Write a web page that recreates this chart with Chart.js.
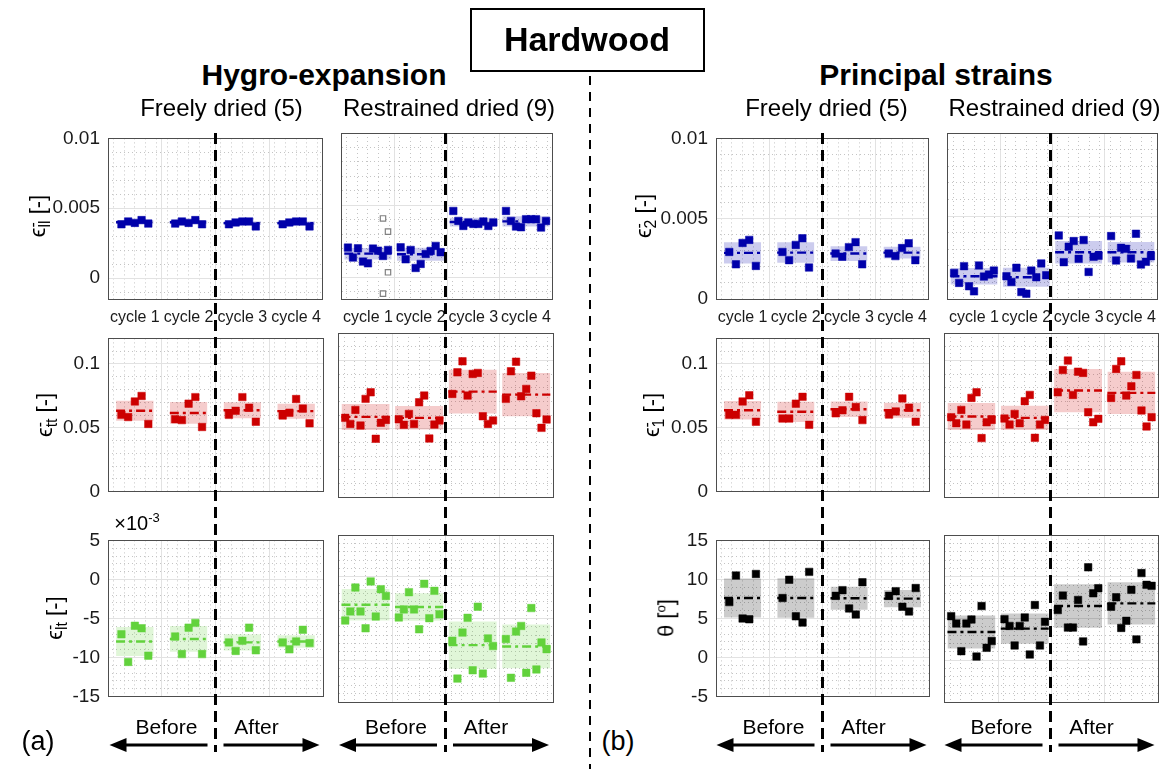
<!DOCTYPE html>
<html><head><meta charset="utf-8">
<script src="https://cdn.jsdelivr.net/npm/chart.js@4.4.1/dist/chart.umd.min.js"></script>
<style>
body{margin:0;background:#fff;}
#fig{position:relative;width:1165px;height:769px;overflow:hidden;font-family:"Liberation Sans",Arial,Helvetica,sans-serif;color:#000;background:#fff;}
#fig canvas{position:absolute;}
.t{position:absolute;white-space:nowrap;transform:translate(-50%,-50%);line-height:1;}
.rot{transform:translate(-50%,-50%) rotate(-90deg);}
.eb{display:inline-block;vertical-align:middle;line-height:0.75;font-size:0.72em;text-align:left;}
.eb span{display:block;}
.vd{position:absolute;z-index:5;}
</style></head><body><div id="fig"></div>
<script>
// ---------------- DATA ----------------
const cycles = ['cycle 1', 'cycle 2', 'cycle 3', 'cycle 4'];
// tick labels
const llTicks = [0, 0.005, 0.01];
const ttTicks = [0, 0.05, 0.1];
const ltTicks = [-15e-3, -10e-3, -5e-3, 0, 5e-3];
const e2Ticks = [0, 0.005, 0.01];
const e1Ticks = [0, 0.05, 0.1];
const thTicks = [-5, 0, 5, 10, 15];

// (a) Hygro-expansion: eps_ll
const llFree = [[3.85e-3, 4.05e-3, 3.95e-3, 4.15e-3, 3.9e-3], [3.9e-3, 4.05e-3, 3.95e-3, 4.15e-3, 3.85e-3], [3.85e-3, 3.98e-3, 4.05e-3, 4.05e-3, 3.7e-3], [3.85e-3, 3.98e-3, 4.05e-3, 4.05e-3, 3.7e-3]];
const llFreeMean = [4.0e-3, 4.0e-3, 3.93e-3, 3.93e-3];
const llFreeSd = [0.12e-3, 0.12e-3, 0.14e-3, 0.14e-3];
const llRest = [[2.06e-3, 1.37e-3, 2.01e-3, 1.09e-3, 0.97e-3, 1.99e-3, 1.85e-3, 1.48e-3, 1.9e-3], [2.08e-3, 1.25e-3, 1.9e-3, 0.65e-3, 0.93e-3, 1.62e-3, 1.83e-3, 2.18e-3, 1.74e-3], [4.6e-3, 3.91e-3, 3.56e-3, 3.8e-3, 3.7e-3, 3.7e-3, 3.87e-3, 3.56e-3, 3.8e-3], [4.6e-3, 3.91e-3, 3.52e-3, 3.47e-3, 4.03e-3, 4.03e-3, 4.03e-3, 3.45e-3, 3.91e-3]];
const llRestMean = [1.64e-3, 1.6e-3, 3.83e-3, 3.88e-3];
const llRestSd = [0.4e-3, 0.45e-3, 0.3e-3, 0.35e-3];
const llRestOutCycle = [0, 0, 0, 0];
const llRestOutSpec = [7, 8, 8, 7];
const llRestOutVal = [4.08e-3, 3.17e-3, 0.35e-3, -1.13e-3];
// eps_tt
const ttFree = [[0.0601, 0.0584, 0.0706, 0.0749, 0.053], [0.0567, 0.056, 0.0689, 0.074, 0.0506], [0.0601, 0.0633, 0.074, 0.0657, 0.0547], [0.0596, 0.0618, 0.0725, 0.065, 0.0535]];
const ttFreeMean = [0.0633, 0.0616, 0.0637, 0.063];
const ttFreeSd = [0.0079, 0.0085, 0.0063, 0.0059];
const ttRest = [[0.0579, 0.0535, 0.0637, 0.0523, 0.0718, 0.0766, 0.0426, 0.0543, 0.0564], [0.0569, 0.0528, 0.0608, 0.0535, 0.0693, 0.0742, 0.0428, 0.053, 0.056], [0.0754, 0.0912, 0.0993, 0.0742, 0.09, 0.0908, 0.0591, 0.0535, 0.056], [0.0718, 0.092, 0.099, 0.0737, 0.0791, 0.0888, 0.0613, 0.0506, 0.0567]];
const ttRestMean = [0.0586, 0.0579, 0.0771, 0.0749];
const ttRestSd = [0.0095, 0.0086, 0.016, 0.0158];
// eps_lt
const ltFree = [[-7.02e-3, -10.56e-3, -5.93e-3, -6.25e-3, -9.76e-3], [-7.3e-3, -9.56e-3, -6.17e-3, -5.56e-3, -9.56e-3], [-8.06e-3, -9.15e-3, -7.86e-3, -6.17e-3, -9.07e-3], [-8.06e-3, -8.95e-3, -7.94e-3, -6.45e-3, -8.15e-3]];
const ltFreeMean = [-7.94e-3, -7.62e-3, -8.06e-3, -7.94e-3];
const ltFreeSd = [1.85e-3, 1.65e-3, 1.05e-3, 0.8e-3];
const ltRest = [[-5.24e-3, -4.15e-3, -1.29e-3, -4.15e-3, -6.17e-3, -0.56e-3, -4.76e-3, -1.49e-3, -2.3e-3], [-4.88e-3, -3.91e-3, -1.85e-3, -3.91e-3, -6.29e-3, -0.85e-3, -4.96e-3, -1.69e-3, -4.48e-3], [-7.66e-3, -12.2e-3, -6.69e-3, -4.92e-3, -11.2e-3, -3.59e-3, -11.6e-3, -7.38e-3, -8.3e-3], [-7.46e-3, -12.1e-3, -6.57e-3, -5.89e-3, -11.5e-3, -3.75e-3, -11.1e-3, -7.86e-3, -8.67e-3]];
const ltRestMean = [-3.35e-3, -3.63e-3, -8.19e-3, -8.35e-3];
const ltRestSd = [1.88e-3, 1.65e-3, 2.83e-3, 2.62e-3];

// (b) Principal strains: eps_2
const e2Free = [[2.93e-3, 2.16e-3, 3.49e-3, 3.68e-3, 2.06e-3], [2.93e-3, 2.42e-3, 3.37e-3, 3.78e-3, 1.96e-3], [2.83e-3, 2.63e-3, 3.23e-3, 3.54e-3, 2.16e-3], [2.83e-3, 2.67e-3, 3.17e-3, 3.47e-3, 2.42e-3]];
const e2FreeMean = [2.87e-3, 2.89e-3, 2.83e-3, 2.89e-3];
const e2FreeSd = [0.66e-3, 0.64e-3, 0.46e-3, 0.37e-3];
const e2Rest = [[1.57e-3, 0.97e-3, 1.98e-3, 0.77e-3, 0.46e-3, 2.02e-3, 1.35e-3, 1.47e-3, 1.71e-3], [1.37e-3, 1.03e-3, 1.88e-3, 0.42e-3, 0.32e-3, 1.71e-3, 1.31e-3, 2.14e-3, 1.43e-3], [3.83e-3, 2.22e-3, 3.15e-3, 3.49e-3, 2.42e-3, 3.55e-3, 1.63e-3, 2.54e-3, 2.6e-3], [3.79e-3, 2.32e-3, 3.08e-3, 3.02e-3, 2.44e-3, 3.93e-3, 2.08e-3, 2.24e-3, 2.58e-3]];
const e2RestMean = [1.37e-3, 1.31e-3, 2.82e-3, 2.82e-3];
const e2RestSd = [0.5e-3, 0.57e-3, 0.68e-3, 0.62e-3];
// eps_1
const e1Free = [[0.0601, 0.0601, 0.0706, 0.0754, 0.0547], [0.0572, 0.0572, 0.0689, 0.0742, 0.0523], [0.0613, 0.0637, 0.0742, 0.0662, 0.056], [0.0603, 0.0628, 0.073, 0.0657, 0.0547]];
const e1FreeMean = [0.0637, 0.0625, 0.0645, 0.0637];
const e1FreeSd = [0.0073, 0.0079, 0.0061, 0.0058];
const e1Rest = [[0.0584, 0.054, 0.0637, 0.053, 0.0725, 0.0766, 0.0431, 0.0547, 0.0564], [0.0574, 0.053, 0.0608, 0.054, 0.0701, 0.0747, 0.0433, 0.053, 0.0564], [0.0766, 0.0929, 0.0998, 0.0747, 0.0917, 0.0908, 0.062, 0.0547, 0.0572], [0.0725, 0.0937, 0.0993, 0.0742, 0.081, 0.0893, 0.0633, 0.0516, 0.0584]];
const e1RestMean = [0.0589, 0.0579, 0.0779, 0.0762];
const e1RestSd = [0.0098, 0.0089, 0.0158, 0.0155];
// theta
const thFree = [[7.1, 10.5, 5.0, 4.9, 10.7], [7.62, 9.96, 5.28, 4.48, 10.97], [7.9, 8.63, 6.29, 5.52, 9.64], [7.9, 8.5, 6.5, 5.9, 8.9]];
const thFreeMean = [7.62, 7.62, 7.6, 7.54];
const thFreeSd = [2.5, 2.52, 1.47, 1.11];
const thRest = [[5.28, 4.4, 1.09, 4.4, 4.88, 0.44, 6.49, 1.49, 2.3], [4.92, 4.11, 1.77, 4.11, 5.12, 0.69, 6.61, 1.77, 4.6], [6.01, 7.74, 3.91, 3.91, 7.22, 2.26, 11.13, 8.02, 8.63], [6.41, 7.54, 3.87, 4.72, 8.43, 2.5, 10.44, 9.03, 8.91]];
const thRestMean = [3.39, 3.79, 6.49, 6.81];
const thRestSd = [1.98, 1.8, 2.6, 2.52];

// ---------------- LAYOUT / STYLE ----------------
const COLS = [[108, 215], [337, 216], [716, 213], [943, 215]];
const ROWS = [[133, 166], [333, 164], [535, 167]];
const FREE_OFF = [0.25, 0.375, 0.5, 0.625, 0.75];
const REST_OFF = [0.12, 0.215, 0.31, 0.405, 0.5, 0.595, 0.69, 0.785, 0.88];
const FREE_SPAN = [0.15, 0.85];
const REST_SPAN = [0.05, 0.95];
const FONT = '"Liberation Sans", Arial, Helvetica, sans-serif';
const C = {
  blue: ['#0000AA', 'rgba(0,0,170,0.2)'],
  red: ['#CC0000', 'rgba(204,0,0,0.2)'],
  green: ['#62D23C', 'rgba(98,210,60,0.2)'],
  black: ['#000000', 'rgba(0,0,0,0.2)']
};
const Y_LL = {min: -0.0015, max: 0.01, ticks: llTicks, minor: 0.001, fmt: v => String(v)};
const Y_TT = {min: 0, max: 0.12, ticks: ttTicks, minor: 0.01, fmt: v => String(v)};
const Y_LT = {min: -0.015, max: 0.005, ticks: ltTicks, minor: 0.001, fmt: v => String(Math.round(v * 1000))};
const Y_E2 = {min: 0, max: 0.01, ticks: e2Ticks, minor: 0.001, fmt: v => String(v)};
const Y_E1 = {min: 0, max: 0.12, ticks: e1Ticks, minor: 0.01, fmt: v => String(v)};
const Y_TH = {min: -5, max: 15, ticks: thTicks, minor: 1, fmt: v => String(v)};

const panels = [
  {col: 0, row: 0, pts: llFree, mean: llFreeMean, sd: llFreeSd, kind: 'free', c: C.blue, y: Y_LL},
  {col: 1, row: 0, pts: llRest, mean: llRestMean, sd: llRestSd, kind: 'rest', c: C.blue, y: Y_LL, out: true},
  {col: 0, row: 1, pts: ttFree, mean: ttFreeMean, sd: ttFreeSd, kind: 'free', c: C.red, y: Y_TT},
  {col: 1, row: 1, pts: ttRest, mean: ttRestMean, sd: ttRestSd, kind: 'rest', c: C.red, y: Y_TT},
  {col: 0, row: 2, pts: ltFree, mean: ltFreeMean, sd: ltFreeSd, kind: 'free', c: C.green, y: Y_LT},
  {col: 1, row: 2, pts: ltRest, mean: ltRestMean, sd: ltRestSd, kind: 'rest', c: C.green, y: Y_LT},
  {col: 2, row: 0, pts: e2Free, mean: e2FreeMean, sd: e2FreeSd, kind: 'free', c: C.blue, y: Y_E2},
  {col: 3, row: 0, pts: e2Rest, mean: e2RestMean, sd: e2RestSd, kind: 'rest', c: C.blue, y: Y_E2},
  {col: 2, row: 1, pts: e1Free, mean: e1FreeMean, sd: e1FreeSd, kind: 'free', c: C.red, y: Y_E1},
  {col: 3, row: 1, pts: e1Rest, mean: e1RestMean, sd: e1RestSd, kind: 'rest', c: C.red, y: Y_E1},
  {col: 2, row: 2, pts: thFree, mean: thFreeMean, sd: thFreeSd, kind: 'free', c: C.black, y: Y_TH},
  {col: 3, row: 2, pts: thRest, mean: thRestMean, sd: thRestSd, kind: 'rest', c: C.black, y: Y_TH}
];

Chart.defaults.font.family = FONT;
Chart.defaults.color = '#262626';
const fig = document.getElementById('fig');

function minorTicks(min, max, step, majors) {
  const out = [];
  for (let k = Math.ceil(min / step - 1e-9); k <= Math.floor(max / step + 1e-9); k++) {
    const v = Math.round(k * step * 1e9) / 1e9;
    if (Math.abs(v - min) < step * 0.01 || Math.abs(v - max) < step * 0.01) continue;
    if (majors.some(m => Math.abs(m - v) < step * 0.01)) continue;
    out.push({value: v});
  }
  return out;
}

function makePanel(p) {
  const [L, W] = COLS[p.col];
  const [T, H] = ROWS[p.row];
  const yLab = p.col === 0 || p.col === 2;
  const xLab = p.row === 0;
  const yW = yLab ? 80 : 0, xH = xLab ? 30 : 0;
  const PAD = {left: 4, top: 14, right: 8, bottom: 14};
  const cw = W + yW + PAD.left + PAD.right;
  const ch = H + xH + PAD.top + PAD.bottom;
  const cv = document.createElement('canvas');
  cv.width = cw; cv.height = ch;
  cv.style.left = (L - yW - PAD.left) + 'px';
  cv.style.top = (T - PAD.top) + 'px';
  cv.style.width = cw + 'px'; cv.style.height = ch + 'px';
  fig.appendChild(cv);

  const off = p.kind === 'free' ? FREE_OFF : REST_OFF;
  const span = p.kind === 'free' ? FREE_SPAN : REST_SPAN;
  const [col, band] = p.c;
  const ds = [];
  const pts = [];
  p.pts.forEach((arr, c) => arr.forEach((v, i) => pts.push({x: c + off[i], y: v})));
  ds.push({type: 'line', data: pts, showLine: false, pointStyle: 'rect', pointRadius: 5.3,
    pointBackgroundColor: col, pointBorderColor: col, pointBorderWidth: 0.5, order: 5});
  if (p.out) {
    const op = llRestOutVal.map((v, i) => ({x: llRestOutCycle[i] + off[llRestOutSpec[i]], y: v}));
    ds.push({type: 'line', data: op, showLine: false, pointStyle: 'rect', pointRadius: 3.8,
      pointBackgroundColor: '#ffffff', pointBorderColor: '#808080', pointBorderWidth: 1.2, order: 5});
  }
  p.mean.forEach((m, c) => {
    const s = p.sd[c];
    ds.push({type: 'line', data: [{x: c + span[0], y: m + s}, {x: c + span[1], y: m + s}],
      borderColor: 'rgba(0,0,0,0)', borderWidth: 0, pointRadius: 0, fill: false, order: 10});
    ds.push({type: 'line', data: [{x: c + span[0], y: m - s}, {x: c + span[1], y: m - s}],
      borderColor: 'rgba(0,0,0,0)', borderWidth: 0, pointRadius: 0, fill: '-1', backgroundColor: band, order: 10});
    ds.push({type: 'line', data: [{x: c + span[0], y: m}, {x: c + span[1], y: m}],
      borderColor: col, borderWidth: 2.4, borderDash: [9, 4, 3, 4], pointRadius: 0, fill: false, order: 1});
  });

  const Y = p.y;
  const lin = (extra) => Object.assign({type: 'linear', min: 0, max: 4}, extra);
  new Chart(cv, {
    type: 'line',
    data: {datasets: ds},
    options: {
      responsive: false, animation: false, events: [],
      layout: {padding: PAD},
      plugins: {legend: {display: false}, tooltip: {enabled: false}},
      scales: {
        x: lin({position: 'bottom', weight: 0,
          afterBuildTicks: s => { s.ticks = cycles.map((_, i) => ({value: i + 0.5})); },
          ticks: {display: xLab, callback: (v, i) => cycles[i], autoSkip: false, maxRotation: 0, minRotation: 0,
            font: {size: 16}, color: '#1a1a1a', padding: 9},
          grid: {display: false, drawTicks: false},
          border: {display: true, color: '#4d4d4d', width: 1},
          afterFit: s => { s.height = xH; }}),
        xg: lin({position: 'bottom', weight: 1,
          afterBuildTicks: s => { s.ticks = [1, 2, 3].map(v => ({value: v})); },
          ticks: {display: false}, grid: {color: '#e2e2e2', lineWidth: 1, drawTicks: false},
          border: {display: false}}),
        xm: lin({position: 'bottom', weight: 2,
          afterBuildTicks: s => { const t = []; for (let c = 0; c < 4; c++) for (let k = 0; k < 5; k++) t.push({value: c + 0.1 + 0.2 * k}); s.ticks = t; },
          ticks: {display: false}, grid: {color: '#c4c4c4', lineWidth: 1, drawTicks: false},
          border: {display: false, dash: [1, 3]}}),
        x2: lin({position: 'top', ticks: {display: false}, grid: {display: false, drawTicks: false},
          border: {display: true, color: '#4d4d4d', width: 1}}),
        y: {type: 'linear', position: 'left', min: Y.min, max: Y.max, weight: 0,
          afterBuildTicks: s => { s.ticks = Y.ticks.map(v => ({value: v})); },
          ticks: {display: yLab, callback: v => Y.fmt(v), font: {size: 19}, color: '#1a1a1a', padding: 8},
          grid: {color: '#e2e2e2', lineWidth: 1, drawTicks: false},
          border: {display: true, color: '#4d4d4d', width: 1},
          afterFit: s => { s.width = yW; }},
        ym: {type: 'linear', position: 'left', min: Y.min, max: Y.max, weight: 1,
          afterBuildTicks: s => { s.ticks = minorTicks(Y.min, Y.max, Y.minor, Y.ticks); },
          ticks: {display: false}, grid: {color: '#c4c4c4', lineWidth: 1, drawTicks: false},
          border: {display: false, dash: [1, 3]}},
        y2: {type: 'linear', position: 'right', min: Y.min, max: Y.max,
          ticks: {display: false}, grid: {display: false, drawTicks: false},
          border: {display: true, color: '#4d4d4d', width: 1}}
      }
    }
  });
}
panels.forEach(makePanel);

// ---------------- TEXT & DECORATION ----------------
function txt(html, x, y, css, cls) {
  const d = document.createElement('div');
  d.className = 't' + (cls ? ' ' + cls : '');
  d.innerHTML = html;
  d.style.left = x + 'px'; d.style.top = y + 'px';
  Object.assign(d.style, css || {});
  fig.appendChild(d);
  return d;
}
const box = document.createElement('div');
Object.assign(box.style, {position: 'absolute', left: '470px', top: '8px', width: '231px', height: '60px',
  border: '2px solid #000', background: '#fff', zIndex: 6});
fig.appendChild(box);
txt('Hardwood', 587, 39, {fontWeight: 'bold', fontSize: '34px', zIndex: 7});
txt('Hygro-expansion', 324, 75, {fontWeight: 'bold', fontSize: '30px'});
txt('Principal strains', 936, 75, {fontWeight: 'bold', fontSize: '30px'});
const colTitles = ['Freely dried (5)', 'Restrained dried (9)', 'Freely dried (5)', 'Restrained dried (9)'];
COLS.forEach(([L, W], i) => txt(colTitles[i], L + W / 2 + (i === 0 ? 6 : 4), 108, {fontSize: '24px'}));

function epsLabel(sub) {
  return 'ϵ<span class="eb"><span>-</span><span>' + sub + '</span></span> [-]';
}
const yLabs = [
  [epsLabel('ll'), 39, 216], [epsLabel('tt'), 46, 415], [epsLabel('lt'), 56, 618],
  [epsLabel('2'), 645, 216], [epsLabel('1'), 653, 415], ['θ [<sup style="font-size:0.6em">o</sup>]', 666, 618]
];
yLabs.forEach(([h, x, y]) => txt(h, x, y, {fontSize: '22px'}, 'rot'));
txt('×10<sup style="font-size:0.65em">-3</sup>', 137, 522, {fontSize: '20px'});
txt('(a)', 38, 741, {fontSize: '27px'});
txt('(b)', 618, 741, {fontSize: '27px'});

// dashed separators
function vdash(x, y1, y2, w, dash, gap) {
  const d = document.createElement('div');
  d.className = 'vd';
  Object.assign(d.style, {left: (x - w / 2) + 'px', top: y1 + 'px', width: w + 'px', height: (y2 - y1) + 'px',
    background: 'repeating-linear-gradient(to bottom,#000 0px,#000 ' + dash + 'px,transparent ' + dash + 'px,transparent ' + (dash + gap) + 'px)'});
  fig.appendChild(d);
}
COLS.forEach(([L, W]) => vdash(L + W / 2, 133, 752, 3, 11, 6));
vdash(590, 76, 769, 2.5, 9, 7);

// arrows
const NS = 'http://www.w3.org/2000/svg';
const svg = document.createElementNS(NS, 'svg');
svg.setAttribute('width', 1165); svg.setAttribute('height', 769);
Object.assign(svg.style, {position: 'absolute', left: 0, top: 0});
fig.appendChild(svg);
function arrow(xTail, xHead, y) {
  const dir = xHead > xTail ? 1 : -1;
  const ln = document.createElementNS(NS, 'line');
  ln.setAttribute('x1', xTail); ln.setAttribute('x2', xHead - dir * 12);
  ln.setAttribute('y1', y); ln.setAttribute('y2', y);
  ln.setAttribute('stroke', '#000'); ln.setAttribute('stroke-width', 3);
  svg.appendChild(ln);
  const pg = document.createElementNS(NS, 'polygon');
  pg.setAttribute('points', `${xHead},${y} ${xHead - dir * 17},${y - 7} ${xHead - dir * 17},${y + 7}`);
  pg.setAttribute('fill', '#000');
  svg.appendChild(pg);
}
COLS.forEach(([L, W]) => {
  const dx = L + W / 2;
  arrow(dx - 8, dx - 106, 745);
  arrow(dx + 8, dx + 104, 745);
  txt('Before', dx - 49, 726, {fontSize: '21px'});
  txt('After', dx + 41, 726, {fontSize: '21px'});
});
</script></body></html>
